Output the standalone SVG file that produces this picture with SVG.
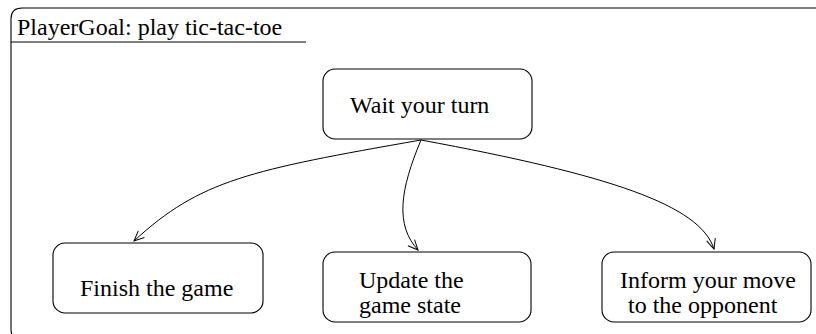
<svg xmlns="http://www.w3.org/2000/svg" width="816" height="334" viewBox="0 0 816 334">
  <style>
    .box { fill: #ffffff; stroke: #000000; stroke-width: 1.1; }
    .lbl { font-family: "Liberation Serif", "Times New Roman", serif; font-size: 24px; fill: #000000; }
    .edge { fill: none; stroke: #000000; stroke-width: 1; }
  </style>
  <defs>
    <marker id="open-arrow" viewBox="0 0 12 12" refX="11" refY="6" markerWidth="12" markerHeight="12" markerUnits="userSpaceOnUse" orient="auto">
      <path d="M1,1.5 L11,6 L1,10.5" fill="none" stroke="#000000" stroke-width="1"/>
    </marker>
  </defs>

  <rect width="816" height="334" fill="#ffffff"/>

  <!-- enclosing frame: top and left sides, bottom-left corner just reaching the canvas edge -->
  <g id="frame">
    <path d="M40,340 L22,340 Q11,340 11,329 L11,19 Q11,8 22,8 L816,8" fill="none" stroke="#000000" stroke-width="1.1"/>
    <line x1="11" y1="42" x2="306" y2="42" stroke="#000000" stroke-width="1.1"/>
    <text class="lbl" x="17" y="35">PlayerGoal: play tic-tac-toe</text>
  </g>

  <g id="wait">
    <rect class="box" x="323" y="69" width="209" height="70" rx="12" ry="12"/>
    <text class="lbl" x="350" y="113">Wait your turn</text>
  </g>

  <g id="finish">
    <rect class="box" x="53" y="243" width="210" height="70" rx="12" ry="12"/>
    <text class="lbl" x="80" y="296">Finish the game</text>
  </g>

  <g id="update">
    <rect class="box" x="323" y="252" width="208" height="70" rx="12" ry="12"/>
    <text class="lbl" x="359" y="288">Update the</text>
    <text class="lbl" x="359" y="313">game state</text>
  </g>

  <g id="inform">
    <rect class="box" x="602" y="252" width="209" height="70" rx="12" ry="12"/>
    <text class="lbl" x="620" y="288">Inform your move</text>
    <text class="lbl" x="628" y="313">to the opponent</text>
  </g>

  <g id="connectors">
    <path class="edge" d="M421,140 C250,170 200,180 134,241" marker-end="url(#open-arrow)"/>
    <path class="edge" d="M421,140 C400,190 395,225 418,250" marker-end="url(#open-arrow)"/>
    <path class="edge" d="M421,140 C610,175 700,205 714,249" marker-end="url(#open-arrow)"/>
  </g>
</svg>
